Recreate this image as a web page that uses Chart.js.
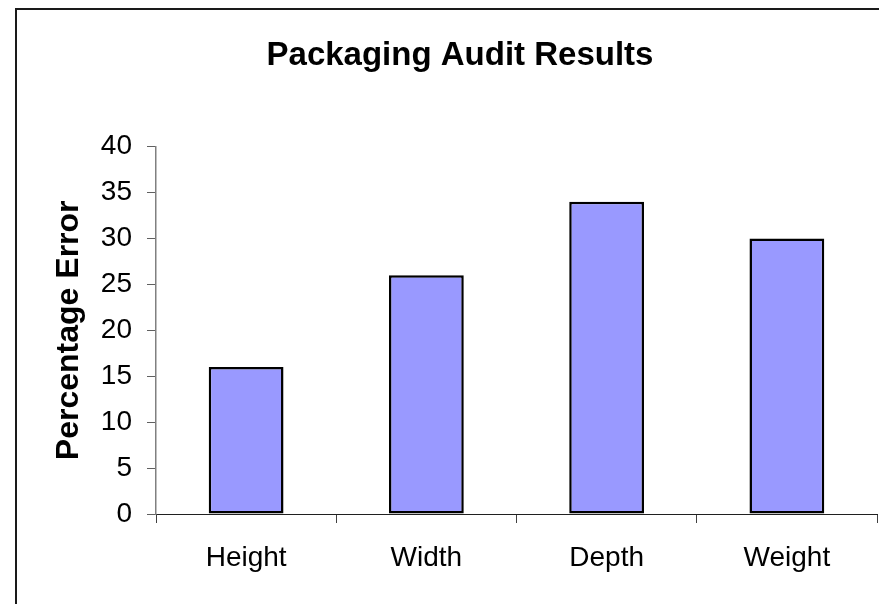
<!DOCTYPE html>
<html>
<head>
<meta charset="utf-8">
<title>Packaging Audit Results</title>
<script src="https://cdn.jsdelivr.net/npm/chart.js@4/dist/chart.umd.min.js"></script>
<style>
  html, body { margin: 0; padding: 0; background: #ffffff; }
  canvas { display: block; }
</style>
</head>
<body>
<canvas id="chart" width="879" height="604"></canvas>
<script>
// Audit categories and the measured error rate for each
const categories = ['Height', 'Width', 'Depth', 'Weight'];
const percentageError = [16, 26, 34, 30];
const yTickValues = [0, 5, 10, 15, 20, 25, 30, 35, 40];

const FONT = '"Liberation Sans", Arial, Helvetica, sans-serif';

// White page and the frame line along the left and top edges
const framePlugin = {
  id: 'frame',
  beforeDraw(chart) {
    const ctx = chart.ctx;
    ctx.save();
    ctx.fillStyle = '#ffffff';
    ctx.fillRect(0, 0, chart.width, chart.height);
    ctx.restore();
  },
  afterDraw(chart) {
    const ctx = chart.ctx;
    ctx.save();
    ctx.strokeStyle = '#1a1a1a';
    ctx.lineWidth = 2;
    ctx.beginPath();
    ctx.moveTo(16, chart.height);
    ctx.lineTo(16, 9);
    ctx.lineTo(chart.width, 9);
    ctx.stroke();
    ctx.restore();
  }
};

new Chart(document.getElementById('chart'), {
  type: 'bar',
  data: {
    labels: categories,
    datasets: [{
      data: percentageError,
      backgroundColor: '#9999ff',
      borderColor: '#000000',
      borderWidth: 2.5,
      borderSkipped: false,
      barPercentage: 0.415,
      categoryPercentage: 1.0
    }]
  },
  options: {
    responsive: false,
    animation: false,
    layout: { padding: { left: 43, right: 2, top: 14, bottom: 28 } },
    plugins: {
      legend: { display: false },
      tooltip: { enabled: false },
      title: {
        display: true,
        text: 'Packaging Audit Results',
        color: '#000000',
        font: { family: FONT, size: 33, weight: 'bold', lineHeight: 1.2 },
        padding: { top: 22, bottom: 71 }
      }
    },
    scales: {
      x: {
        offset: true,
        grid: {
          offset: true,
          drawOnChartArea: false,
          drawTicks: true,
          tickLength: 9,
          color: '#404040',
          lineWidth: 1
        },
        border: { display: true, color: '#202020', width: 1 },
        ticks: {
          color: '#000000',
          padding: 18,
          font: { family: FONT, size: 28 },
          maxRotation: 0
        },
        afterFit(scale) { scale.height = 62; }
      },
      y: {
        min: 0,
        max: 40,
        afterBuildTicks(scale) {
          scale.ticks = yTickValues.map(v => ({ value: v }));
        },
        grid: {
          drawOnChartArea: false,
          drawTicks: true,
          tickLength: 9,
          color: '#606060',
          lineWidth: 1
        },
        border: { display: true, color: '#808080', width: 1.5 },
        ticks: {
          color: '#000000',
          padding: 15,
          font: { family: FONT, size: 28 }
        },
        title: {
          display: true,
          text: 'Percentage Error',
          color: '#000000',
          font: { family: FONT, size: 32, weight: 'bold', lineHeight: 1.2 },
          padding: { top: 7, bottom: 0 }
        },
        afterFit(scale) { scale.width = 113; }
      }
    }
  },
  plugins: [framePlugin]
});
</script>
</body>
</html>
